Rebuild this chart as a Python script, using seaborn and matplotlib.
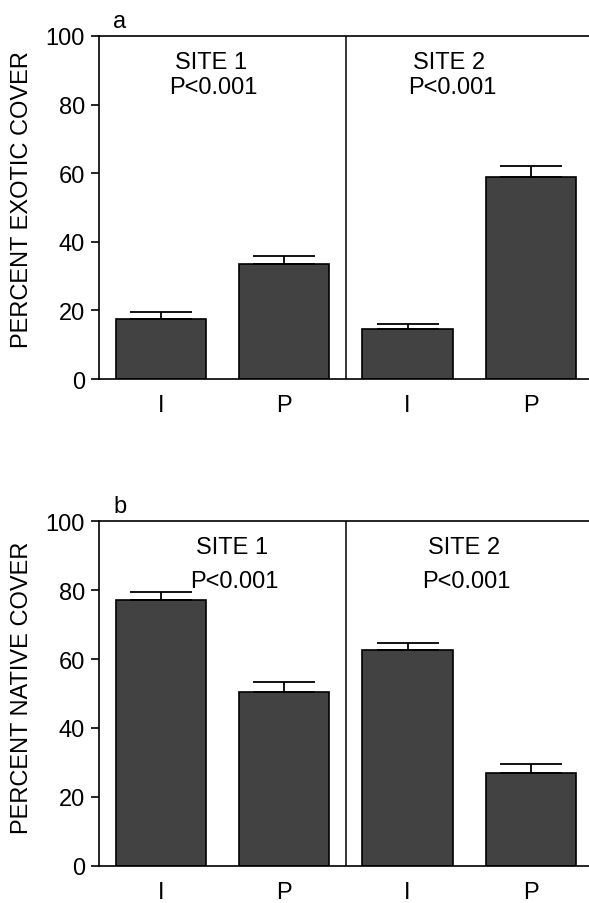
import pandas as pd
import matplotlib
matplotlib.use("Agg")
import matplotlib.pyplot as plt
import seaborn as sns

# ---------- DATA ----------
groups = ["S1-I", "S1-P", "S2-I", "S2-P"]
tick_labels = ["I", "P", "I", "P"]

exotic_mean = [17.6, 33.5, 14.7, 59.0]
exotic_se = [2.0, 2.5, 1.4, 3.1]

native_mean = [77.2, 50.5, 62.6, 27.0]
native_se = [2.3, 2.9, 2.0, 2.5]

site_titles = ["SITE 1", "SITE 2"]
p_values = ["P<0.001", "P<0.001"]

BAR_COLOR = "#424242"
FS = 17

sns.set_theme(style="white")
plt.rcParams["font.family"] = ["Liberation Sans", "DejaVu Sans"]
plt.rcParams.update({
    "text.color": "black",
    "axes.labelcolor": "black",
    "xtick.color": "black",
    "ytick.color": "black",
})


def draw_panel(ax, means, ses, ylabel, letter, text_x, text_y, label_y):
    df = pd.DataFrame({"group": groups, "value": means})
    sns.barplot(data=df, x="group", y="value", order=groups, color=BAR_COLOR,
                width=0.73, edgecolor="black", linewidth=1.2, saturation=1,
                errorbar=None, ax=ax)
    # upper error bars only
    ax.errorbar(range(len(groups)), means, yerr=[[0] * len(ses), ses],
                fmt="none", ecolor="black", elinewidth=1.3, capsize=22,
                capthick=1.3, zorder=3)

    # divider between the two sites
    ax.axvline(1.5, color="black", linewidth=1.1)

    ax.set_xlim(-0.5, 3.47)
    ax.set_ylim(0, 100)
    ax.set_yticks([0, 20, 40, 60, 80, 100])
    ax.set_xticks(range(len(groups)))
    ax.set_xticklabels(tick_labels)
    ax.tick_params(axis="y", length=6, width=1.2, labelsize=FS, pad=4,
                   left=True, direction="out")
    ax.tick_params(axis="x", length=0, labelsize=FS, pad=11)
    ax.set_xlabel("")
    ax.set_ylabel(ylabel, fontsize=FS)
    ax.yaxis.set_label_coords(-0.135, label_y)

    for side in ["left", "bottom", "top"]:
        ax.spines[side].set_visible(True)
        ax.spines[side].set_color("black")
        ax.spines[side].set_linewidth(1.2)
    ax.spines["right"].set_visible(False)

    for i in range(2):
        ax.text(text_x[i], text_y[0], site_titles[i], ha="center", va="center",
                fontsize=FS)
        ax.text(text_x[i] + 0.02, text_y[1], p_values[i], ha="center",
                va="center", fontsize=FS)

    ax.text(-0.33, 102.5, letter, ha="center", va="baseline", fontsize=FS,
            clip_on=False)


fig = plt.figure(figsize=(5.89, 9.04), dpi=100)
ax_a = fig.add_axes([0.168, 0.5796, 0.832, 0.3795])
ax_b = fig.add_axes([0.168, 0.041, 0.832, 0.3815])

draw_panel(ax_a, exotic_mean, exotic_se, "PERCENT EXOTIC COVER", "a",
           [0.41, 2.34], [92.4, 85.0], 0.525)
draw_panel(ax_b, native_mean, native_se, "PERCENT NATIVE COVER", "b",
           [0.58, 2.46], [92.5, 82.6], 0.52)

fig.savefig("out.png", dpi=100, facecolor="white")
